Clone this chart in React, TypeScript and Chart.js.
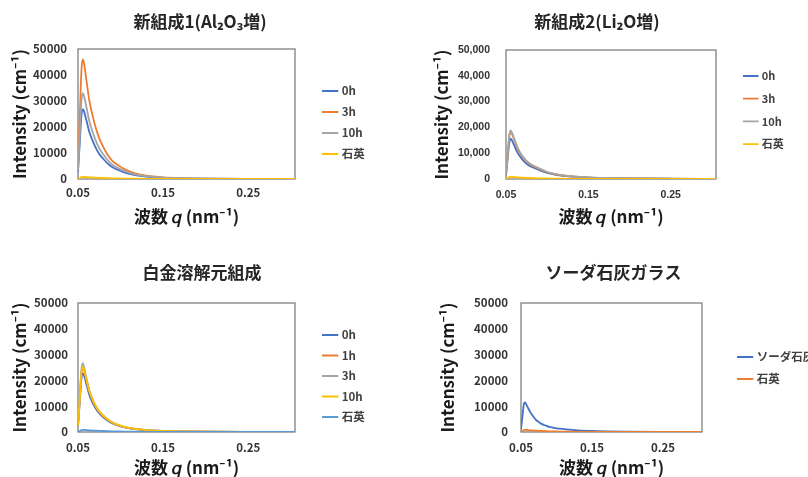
import React, { useEffect, useRef } from 'react';
import { Chart, registerables } from 'chart.js';

Chart.register(...registerables);

// ---- data ----
const Q = [0.045, 0.047, 0.049, 0.0505, 0.052, 0.055, 0.0585, 0.0625, 0.0662, 0.07, 0.0738, 0.08, 0.085, 0.093, 0.1, 0.112, 0.125, 0.145, 0.165, 0.195, 0.245, 0.3];
const X_TICK_VALUES = [0.045, 0.145, 0.245];
const X_TICK_LABELS = ['0.05', '0.15', '0.25'];
const Y_MIN = 0;
const Y_MAX = 50000;
const Y_STEP = 10000;

const QUARTZ = [0, 400, 750, 850, 820, 730, 640, 560, 490, 430, 380, 310, 260, 200, 160, 115, 85, 55, 38, 24, 12, 6];

const P1_0H = [2700, 13500, 24200, 26900, 26100, 22400, 17900, 14500, 11800, 9600, 8100, 5900, 4600, 3350, 2450, 1500, 900, 460, 260, 130, 50, 25];
const P1_3H = [4600, 23000, 41400, 46000, 44600, 37700, 29900, 23900, 19300, 15600, 12900, 9200, 7100, 5150, 3700, 2200, 1300, 650, 370, 180, 70, 35];
const P1_10H = [3300, 16500, 29700, 33000, 32000, 27500, 22000, 17800, 14500, 11800, 9900, 7200, 5600, 4100, 3000, 1800, 1080, 550, 310, 150, 60, 30];

const P2_0H = [1500, 7800, 14000, 15600, 15100, 13000, 10500, 8500, 7050, 5900, 5050, 4150, 3500, 2550, 1950, 1300, 920, 550, 360, 200, 85, 42];
const P2_3H = [1800, 9100, 16400, 18300, 17700, 15200, 12200, 9800, 8150, 6800, 5800, 4750, 4000, 2900, 2200, 1450, 1020, 600, 390, 210, 88, 44];
const P2_10H = [1900, 9400, 16900, 18800, 18200, 15600, 12600, 10100, 8400, 7000, 6000, 4900, 4100, 3000, 2250, 1500, 1050, 620, 400, 220, 90, 45];

const P3_0H = [2300, 11300, 20400, 22700, 22000, 18400, 14200, 11100, 8900, 7200, 5950, 4400, 3400, 2380, 1760, 1080, 680, 380, 225, 108, 40, 18];
const P3_1H = [2500, 12500, 22500, 25000, 24000, 19900, 15300, 12000, 9600, 7800, 6400, 4750, 3700, 2570, 1900, 1170, 730, 405, 240, 115, 43, 20];
const P3_3H = [2700, 13300, 24000, 26700, 25400, 20800, 15900, 12400, 9900, 8000, 6600, 4850, 3750, 2600, 1920, 1180, 740, 410, 245, 118, 44, 20];
const P3_10H = [2500, 12600, 22800, 25300, 24400, 20300, 15700, 12300, 9900, 8000, 6600, 4900, 3800, 2650, 1950, 1200, 750, 420, 250, 120, 45, 20];

const P4_SODA = [1100, 6000, 10800, 11450, 10900, 9300, 7500, 5900, 4650, 3850, 3150, 2450, 1950, 1500, 1280, 950, 640, 380, 240, 120, 45, 20];

const BLUE = '#4472C4';
const ORANGE = '#ED7D31';
const GRAY = '#A5A5A5';
const YELLOW = '#FFC000';
const LIGHTBLUE = '#5B9BD5';

const CJK = '"Noto Sans CJK JP", "Noto Sans", sans-serif';
const LATIN = '"Liberation Sans", Arial, sans-serif';

type Series = { label: string; values: number[]; color: string };

type PanelCfg = {
  x0: number; y0: number; w: number; h: number;
  padL: number; padR: number;
  area: { l: number; r: number; t: number; b: number };
  title: string; titleCy: number;
  yTitleCx: number; yTickGap: number; yTickFont: number; yTickFamily: string; comma: boolean;
  xTickCy: number; xTickFont: number; xTickFamily: string; xTitleCy: number;
  legendX: number; legendY: number; legendFont: number; legendPad: number;
  series: Series[];
};

const TITLE_SIZE = 17;
const AXIS_TITLE_SIZE = 17;

const PANELS: PanelCfg[] = [
  {
    x0: 0, y0: 0, w: 400, h: 240, padL: 0, padR: 0,
    area: { l: 78, r: 295, t: 49, b: 179 },
    title: '新組成1(Al₂O₃増)', titleCy: 22,
    yTitleCx: 20, yTickGap: 11, yTickFont: 11.5, yTickFamily: CJK, comma: false,
    xTickCy: 193, xTickFont: 11.5, xTickFamily: CJK, xTitleCy: 217,
    legendX: 324.4, legendY: 91, legendFont: 11.5, legendPad: 9.5,
    series: [
      { label: '0h', values: P1_0H, color: BLUE },
      { label: '3h', values: P1_3H, color: ORANGE },
      { label: '10h', values: P1_10H, color: GRAY },
      { label: '石英', values: QUARTZ, color: YELLOW },
    ],
  },
  {
    x0: 400, y0: 0, w: 408, h: 240, padL: 0, padR: 14,
    area: { l: 106, r: 316, t: 50, b: 179 },
    title: '新組成2(Li₂O増)', titleCy: 22,
    yTitleCx: 42, yTickGap: 16, yTickFont: 10.5, yTickFamily: LATIN, comma: true,
    xTickCy: 195, xTickFont: 10.5, xTickFamily: LATIN, xTitleCy: 217,
    legendX: 345.3, legendY: 76, legendFont: 11, legendPad: 11.7,
    series: [
      { label: '0h', values: P2_0H, color: BLUE },
      { label: '3h', values: P2_3H, color: ORANGE },
      { label: '10h', values: P2_10H, color: GRAY },
      { label: '石英', values: QUARTZ, color: YELLOW },
    ],
  },
  {
    x0: 0, y0: 240, w: 400, h: 250, padL: 4, padR: 0,
    area: { l: 78, r: 295, t: 63, b: 192 },
    title: '白金溶解元組成', titleCy: 33,
    yTitleCx: 20, yTickGap: 10, yTickFont: 11.5, yTickFamily: CJK, comma: false,
    xTickCy: 208, xTickFont: 11.5, xTickFamily: CJK, xTitleCy: 228,
    legendX: 324.4, legendY: 95, legendFont: 11.5, legendPad: 9,
    series: [
      { label: '0h', values: P3_0H, color: BLUE },
      { label: '1h', values: P3_1H, color: ORANGE },
      { label: '3h', values: P3_3H, color: GRAY },
      { label: '10h', values: P3_10H, color: YELLOW },
      { label: '石英', values: QUARTZ, color: LIGHTBLUE },
    ],
  },
  {
    x0: 400, y0: 240, w: 408, h: 250, padL: 19, padR: 0,
    area: { l: 121, r: 302, t: 63, b: 192 },
    title: 'ソーダ石灰ガラス', titleCy: 33,
    yTitleCx: 48, yTickGap: 13, yTickFont: 11.5, yTickFamily: CJK, comma: false,
    xTickCy: 208, xTickFont: 11.5, xTickFamily: CJK, xTitleCy: 228,
    legendX: 339.4, legendY: 117, legendFont: 11.5, legendPad: 10.5,
    series: [
      { label: 'ソーダ石灰', values: P4_SODA, color: BLUE },
      { label: '石英', values: QUARTZ, color: ORANGE },
    ],
  },
];

const framePlugin = {
  id: 'plotFrame',
  beforeDatasetsDraw(chart: any) {
    const { ctx, chartArea: a } = chart;
    ctx.save();
    ctx.strokeStyle = '#808080';
    ctx.lineWidth = 1.3;
    ctx.strokeRect(a.left, a.top, a.right - a.left, a.bottom - a.top);
    ctx.restore();
  },
};

function makeLegendPlacer(cfg: PanelCfg) {
  return {
    id: 'legendPlacer',
    afterLayout(chart: any) {
      const lg = chart.legend;
      if (!lg) return;
      lg.left = cfg.legendX - cfg.legendPad;
      lg.right = lg.left + lg.width;
      lg.top = cfg.legendY - cfg.legendFont / 2 - cfg.legendPad;
      lg.bottom = chart.height;
      lg.height = lg.bottom - lg.top;
    },
  };
}

function Panel({ cfg }: { cfg: PanelCfg }) {
  const ref = useRef<HTMLCanvasElement>(null);
  useEffect(() => {
    const canvas = ref.current;
    if (!canvas) return;
    const n = cfg.series.length;
    const titleLH = TITLE_SIZE * 1.2;
    const axisLH = AXIS_TITLE_SIZE * 1.2;
    const titlePadTop = cfg.titleCy - titleLH / 2;
    const titlePadBottom = cfg.area.t - titlePadTop - titleLH;
    const yAxisWidth = cfg.area.l - cfg.padL;
    const rightWidth = cfg.w - cfg.padR - cfg.area.r;
    const xAxisHeight = cfg.h - cfg.area.b;
    const yTitlePad = cfg.yTitleCx - cfg.padL - axisLH / 2;
    const xTickPad = cfg.xTickCy - cfg.area.b - cfg.xTickFont * 0.6;
    const xTitlePad = cfg.h - cfg.xTitleCy - axisLH / 2;

    const chart = new Chart(canvas, {
      type: 'line',
      data: {
        datasets: cfg.series.map((s, i) => ({
          label: s.label,
          data: Q.map((x, j) => ({ x, y: s.values[j] })),
          borderColor: s.color,
          backgroundColor: s.color,
          borderWidth: 1.8,
          pointRadius: 0,
          pointHoverRadius: 0,
          cubicInterpolationMode: 'monotone',
          order: n - i,
        })),
      },
      options: {
        responsive: false,
        animation: false,
        devicePixelRatio: 1,
        layout: { padding: { left: cfg.padL, right: cfg.padR, top: 0, bottom: 0 } },
        plugins: {
          title: {
            display: true,
            text: cfg.title,
            color: '#262626',
            font: { family: CJK, size: TITLE_SIZE, weight: 'bold' },
            padding: { top: titlePadTop, bottom: titlePadBottom },
          },
          legend: {
            display: true,
            position: 'chartArea',
            align: 'start',
            labels: {
              usePointStyle: true,
              pointStyle: 'line',
              color: '#404040',
              padding: cfg.legendPad,
              font: { family: CJK, size: cfg.legendFont, weight: 'bold' },
              sort: (a: any, b: any) => a.datasetIndex - b.datasetIndex,
            },
          },
          tooltip: { enabled: false },
        },
        scales: {
          x: {
            type: 'linear',
            position: 'bottom',
            min: 0.045,
            max: 0.3,
            grid: { display: false, drawTicks: false },
            border: { display: false },
            afterBuildTicks: (scale: any) => {
              scale.ticks = X_TICK_VALUES.map((v) => ({ value: v }));
            },
            afterFit: (scale: any) => {
              scale.height = xAxisHeight;
            },
            ticks: {
              autoSkip: false,
              maxRotation: 0,
              padding: xTickPad,
              color: '#333333',
              font: { family: cfg.xTickFamily, size: cfg.xTickFont, weight: 'bold' },
              callback: (_v: any, i: number) => X_TICK_LABELS[i],
            },
            title: {
              display: true,
              text: '波数 𝑞 (nm⁻¹)',
              color: '#1a1a1a',
              font: { family: CJK, size: AXIS_TITLE_SIZE, weight: 'bold' },
              padding: { top: 0, bottom: xTitlePad },
            },
          },
          y: {
            type: 'linear',
            position: 'left',
            min: Y_MIN,
            max: Y_MAX,
            grid: { display: false, drawTicks: false },
            border: { display: false },
            afterFit: (scale: any) => {
              scale.width = yAxisWidth;
            },
            ticks: {
              stepSize: Y_STEP,
              padding: cfg.yTickGap,
              color: '#333333',
              font: { family: cfg.yTickFamily, size: cfg.yTickFont, weight: 'bold' },
              callback: (v: any) => (cfg.comma ? Number(v).toLocaleString('en-US') : String(v)),
            },
            title: {
              display: true,
              text: 'Intensity (cm⁻¹)',
              color: '#1a1a1a',
              font: { family: CJK, size: AXIS_TITLE_SIZE, weight: 'bold' },
              padding: { top: yTitlePad, bottom: 0 },
            },
          },
          yRight: {
            type: 'linear',
            axis: 'y',
            position: 'right',
            display: true,
            grid: { display: false, drawTicks: false },
            border: { display: false },
            ticks: { display: false },
            afterFit: (scale: any) => {
              scale.width = rightWidth;
            },
          },
        },
      } as any,
      plugins: [framePlugin, makeLegendPlacer(cfg)],
    });
    return () => chart.destroy();
  }, [cfg]);
  return (
    <canvas
      ref={ref}
      width={cfg.w}
      height={cfg.h}
      style={{ position: 'absolute', left: cfg.x0, top: cfg.y0, width: cfg.w, height: cfg.h }}
    />
  );
}

export default function App() {
  return (
    <div
      style={{
        position: 'fixed',
        left: 0,
        top: 0,
        width: 808,
        height: 477,
        overflow: 'hidden',
        background: '#ffffff',
      }}
    >
      {PANELS.map((p, i) => (
        <Panel key={i} cfg={p} />
      ))}
    </div>
  );
}
